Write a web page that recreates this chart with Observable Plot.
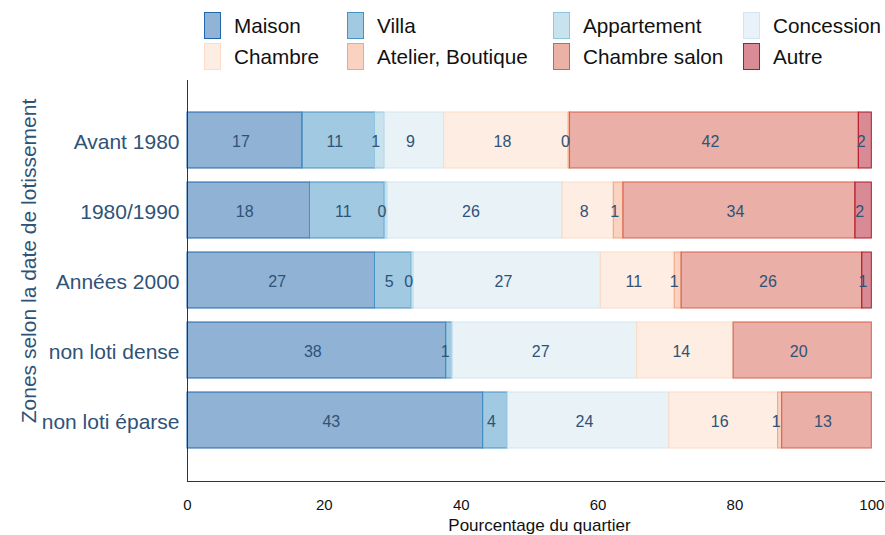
<!DOCTYPE html>
<html>
<head>
<meta charset="utf-8">
<script src="https://cdn.jsdelivr.net/npm/d3@7"></script>
<script src="https://cdn.jsdelivr.net/npm/@observablehq/plot@0.6"></script>
<style>
  html, body { margin: 0; padding: 0; background: white; }
  body { width: 885px; height: 535px; overflow: hidden; font-family: "Liberation Sans", Arial, sans-serif; }
  #legend { height: 70px; box-sizing: border-box; padding-top: 10px; padding-left: 204px;
    display: grid; grid-template-columns: 143px 206px 190px auto; grid-auto-rows: 31px; }
  .item { display: flex; align-items: center; font-size: 20.7px; color: #111; white-space: nowrap; }
  .sw { width: 17px; height: 27px; margin-right: 13px; box-sizing: border-box; border: 1px solid; }
  #chart svg { display: block; overflow: visible; }
</style>
</head>
<body>
<div id="legend"></div>
<div id="chart"></div>
<script>
const zones = ["Avant 1980", "1980/1990", "Années 2000", "non loti dense", "non loti éparse"];
const types = ["Maison", "Villa", "Appartement", "Concession", "Chambre", "Atelier, Boutique", "Chambre salon", "Autre"];
const maison       = [16.8, 17.9, 27.4, 37.8, 43.2];
const villa        = [10.6, 10.9, 5.3, 0.9, 3.6];
const appartement  = [1.4, 0.4, 0.4, null, null];
const concession   = [8.7, 25.6, 27.3, 27.0, 23.6];
const chambre      = [18.2, 7.5, 10.8, 14.1, 15.9];
const atelier      = [0.2, 1.4, 1.0, null, 0.6];
const chambreSalon = [42.2, 33.9, 26.4, 20.2, 13.1];
const autre        = [1.9, 2.4, 1.4, null, null];
const xTicks = [0, 20, 40, 60, 80, 100];
const xLabel = "Pourcentage du quartier";
const yLabel = "Zones selon la date de lotissement";

const series = [maison, villa, appartement, concession, chambre, atelier, chambreSalon, autre];
const colors = d3.schemeRdBu[8].slice().reverse();

const rows = [];
zones.forEach((z, i) => {
  types.forEach((t, j) => {
    const v = series[j][i];
    if (v != null) rows.push({zone: z, type: t, value: v});
  });
});

// Legend
const legend = document.getElementById("legend");
types.forEach((t, j) => {
  const item = document.createElement("div");
  item.className = "item";
  const sw = document.createElement("span");
  sw.className = "sw";
  sw.style.background = d3.interpolateRgb("white", colors[j])(0.5);
  sw.style.borderColor = colors[j];
  item.appendChild(sw);
  const lab = document.createElement("span");
  lab.textContent = t;
  item.appendChild(lab);
  legend.appendChild(item);
});

const chart = Plot.plot({
  width: 885,
  height: 465,
  marginLeft: 187,
  marginRight: 0,
  marginTop: 10,
  marginBottom: 54,
  style: {fontFamily: "'Liberation Sans', Arial, sans-serif", background: "white", overflow: "visible"},
  x: {domain: [0, 102]},
  y: {domain: zones, padding: 0.2, insetTop: 18, insetBottom: 19},
  color: {domain: types, range: colors},
  marks: [
    Plot.barX(rows, Plot.stackX({x: "value", y: "zone", fill: "type", stroke: "type", fillOpacity: 0.5, strokeWidth: 1})),
    Plot.text(rows, Plot.stackX({x: "value", y: "zone", z: "type", text: d => String(Math.round(d.value)), fill: "#2f5377", fontSize: 16, dx: -4, dy: 1})),
    Plot.ruleX([0], {stroke: "#333"}),
    Plot.frame({anchor: "bottom", stroke: "#333"}),
    Plot.axisX({ticks: xTicks, tickSize: 0, tickPadding: 18, fontSize: 15, fill: "#111", label: null}),
    Plot.axisY({tickSize: 0, tickPadding: 8, fontSize: 21, fill: "#2f5377", label: null, dy: 2}),
    Plot.text([xLabel], {text: d => d, frameAnchor: "bottom", dy: 49, dx: 3, fontSize: 17, fill: "#111"}),
    Plot.text([yLabel], {text: d => d, frameAnchor: "left", textAnchor: "middle", lineAnchor: "middle", rotate: -90, dx: -158, dy: -20, fontSize: 21, fill: "#2f5377"})
  ]
});
document.getElementById("chart").appendChild(chart);
</script>
</body>
</html>
